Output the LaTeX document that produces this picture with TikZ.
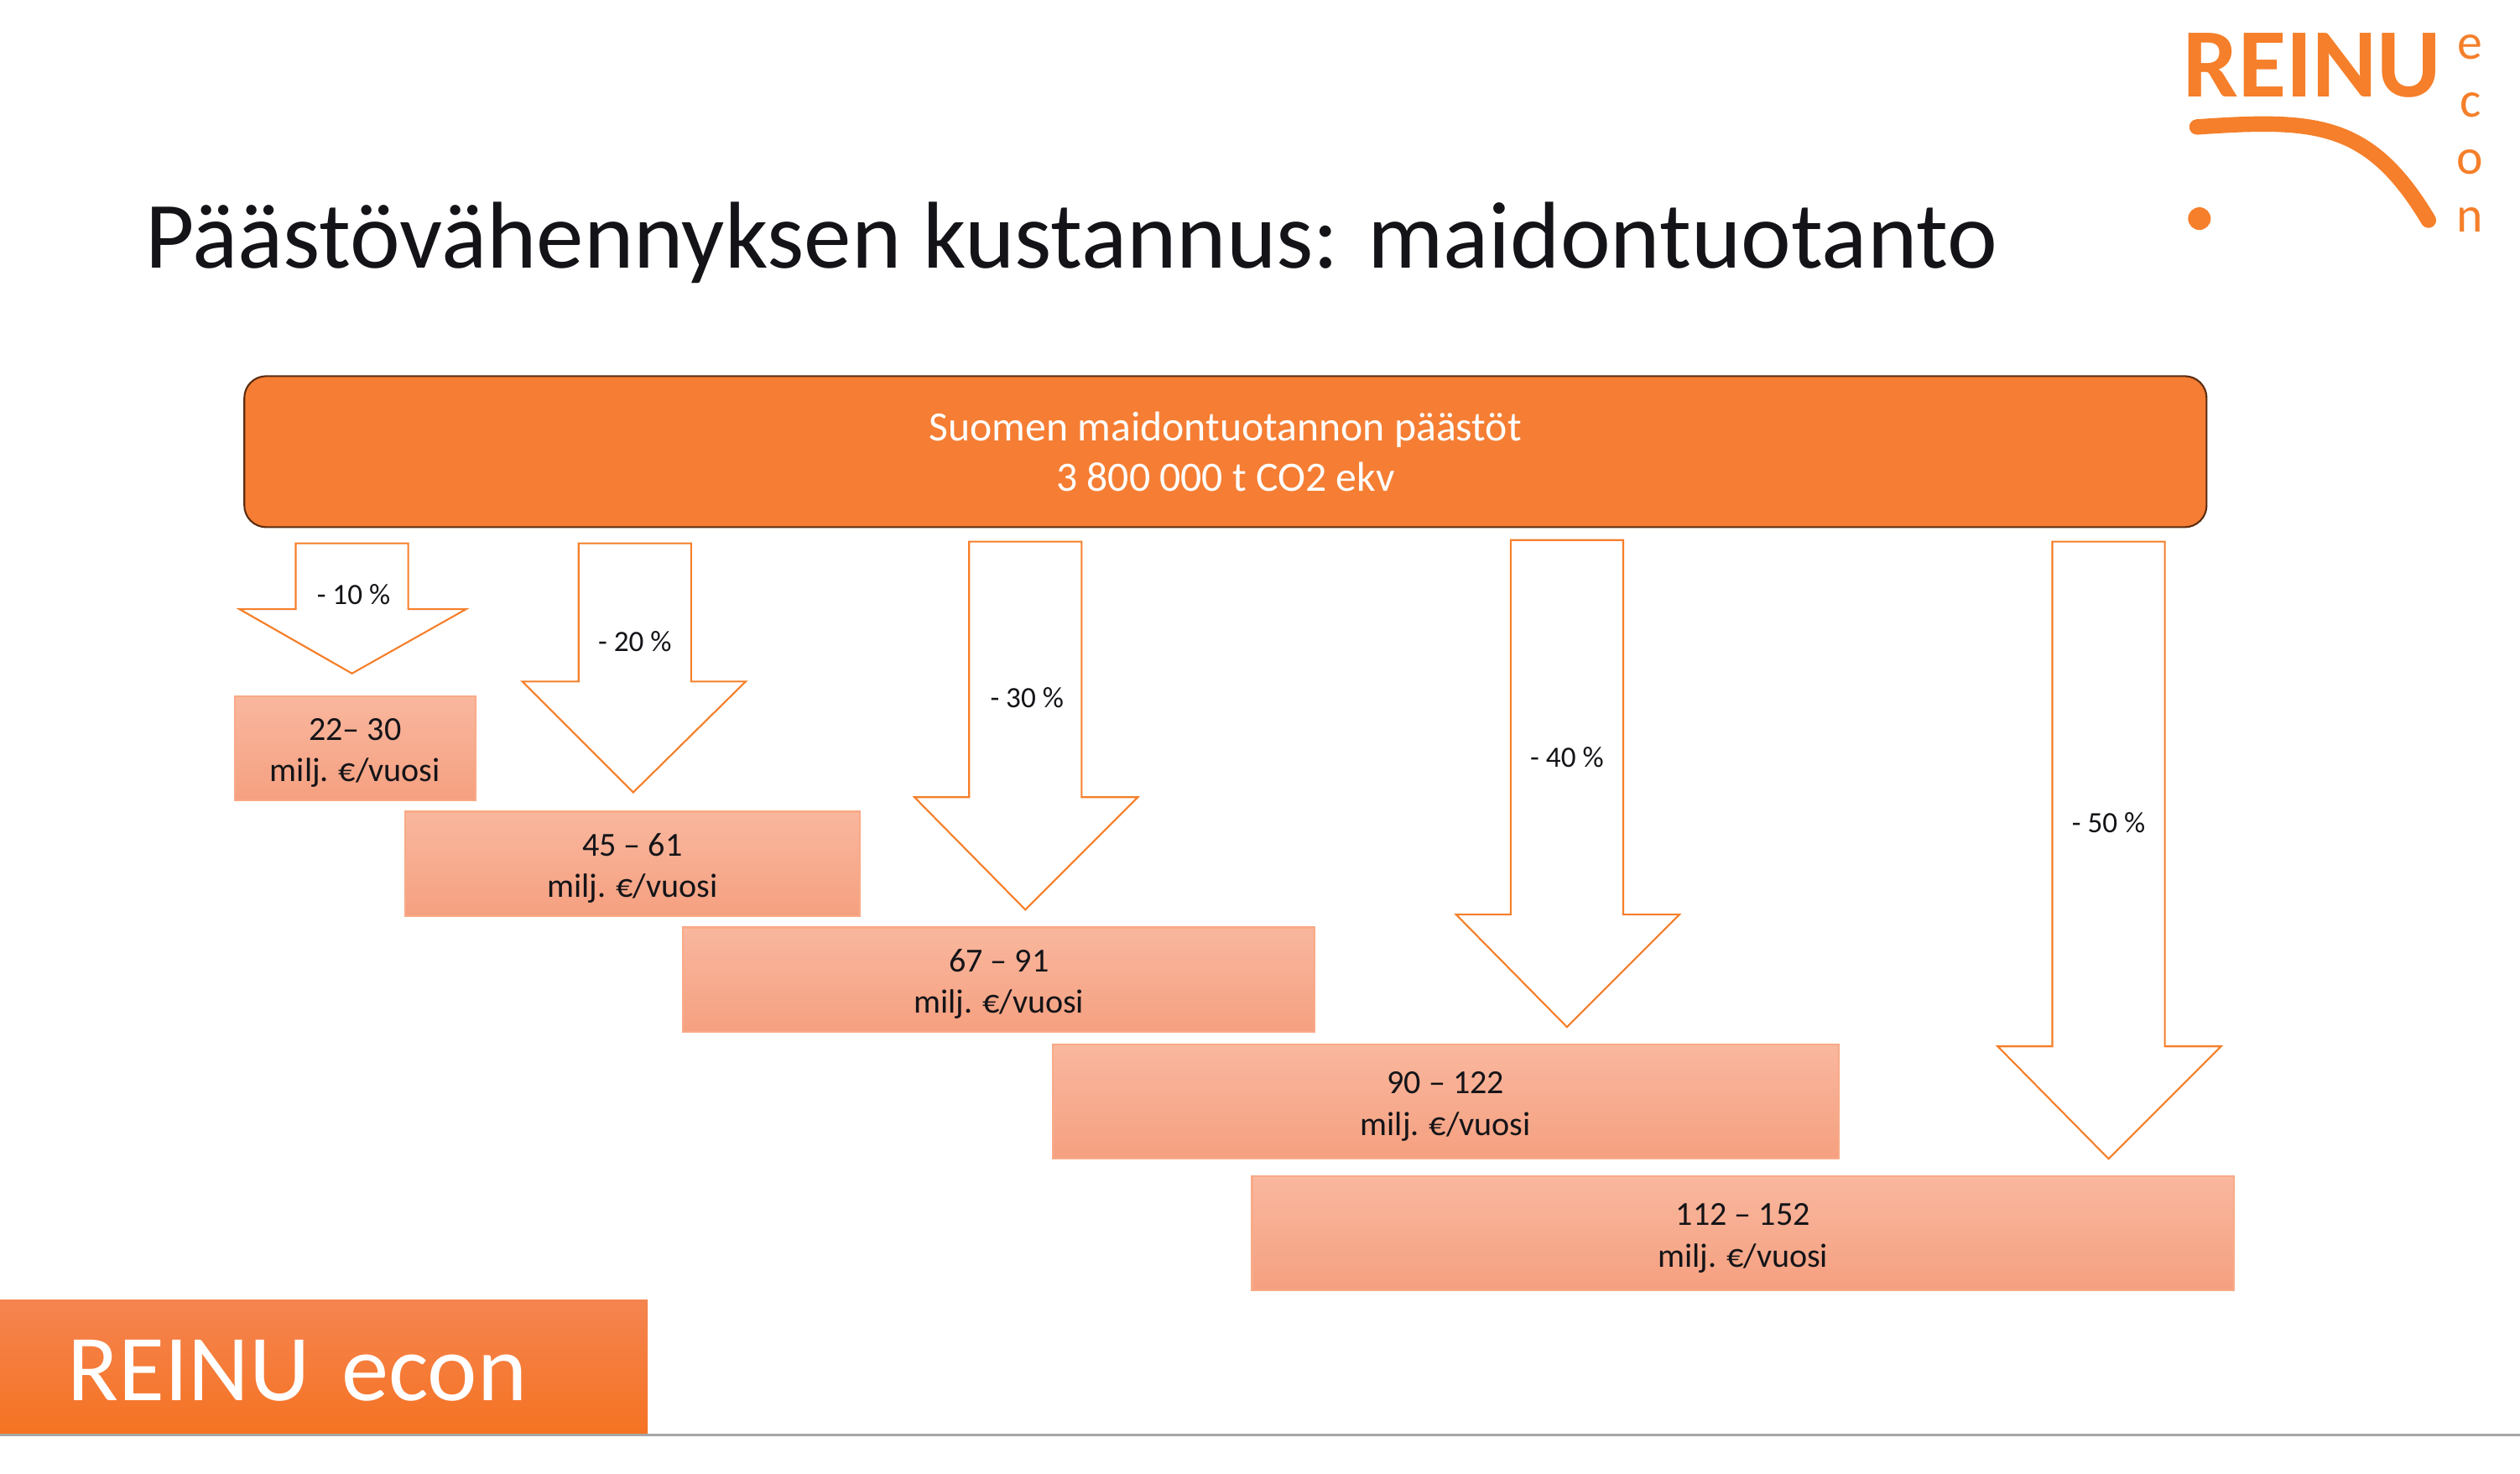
\documentclass[tikz,border=0pt]{standalone}
\usepackage{fontspec}
\setmainfont{Carlito}
\usepackage{tikz}
\usetikzlibrary{positioning}
\definecolor{reinu}{RGB}{245,127,42}
\definecolor{headfill}{RGB}{245,126,52}
\definecolor{headline}{RGB}{92,44,16}
\definecolor{costtop}{RGB}{249,183,158}
\definecolor{costbot}{RGB}{245,160,128}
\definecolor{costline}{RGB}{249,170,135}
\definecolor{foottop}{RGB}{245,132,80}
\definecolor{footbot}{RGB}{245,115,34}
\definecolor{inktext}{RGB}{20,20,24}
\newcommand{\costgap}{\rule{0pt}{3.75mm}}

\begin{document}
\begin{tikzpicture}[x=0.19158mm, y=-0.19158mm, every node/.style={align=center,text=inktext}, head/.style={rectangle,rounded corners=2.6mm,draw=headline,semithick,fill=headfill,minimum width=233.9mm,minimum height=18mm,text=white,font=\fontsize{14.15}{16.9}\selectfont}, cost/.style={rectangle,draw=costline,semithick,top color=costtop,bottom color=costbot,inner ysep=0pt,minimum height=12.45mm,font=\fontsize{11.4}{14.1}\selectfont}, costtall/.style={cost,minimum height=13.6mm}, drop/.style={draw=reinu,semithick,fill=white,line join=miter}, pct/.style={font=\fontsize{10}{12}\selectfont}]
  \useasboundingbox (0,0) rectangle (1568,917);
  \node[anchor=base west,inner sep=0pt,font=\fontsize{32.2}{38}\selectfont] (title) at (90,167) {Päästövähennyksen kustannus: maidontuotanto};
  \node[head] (total) at (762.5,281) {Suomen maidontuotannon päästöt\\3 800 000 t CO2 ekv};
  \draw[drop] (184,338)--(254,338)--(254,379)--(290,379)--(219,419)--(149,379)--(184,379)--cycle;
  \draw[drop] (360,338)--(430,338)--(430,424)--(464,424)--(394,493)--(325,424)--(360,424)--cycle;
  \draw[drop] (603,337)--(673,337)--(673,496)--(708,496)--(638,566)--(569,496)--(603,496)--cycle;
  \draw[drop] (940,336)--(1010,336)--(1010,569)--(1045,569)--(975,639)--(906,569)--(940,569)--cycle;
  \draw[drop] (1277,337)--(1347,337)--(1347,651)--(1382,651)--(1312,721)--(1243,651)--(1277,651)--cycle;
  \node[pct] (p10) at (220,370) {- 10 \%};
  \node[pct] (p20) at (395,399) {- 20 \%};
  \node[pct] (p30) at (639,434) {- 30 \%};
  \node[pct] (p40) at (975,471) {- 40 \%};
  \node[pct] (p50) at (1312,512) {- 50 \%};
  \node[cost,minimum width=28.7mm] (c10) at (221,465.5) {\costgap 22– 30\\milj. €/vuosi};
  \node[cost,minimum width=54.2mm] (c20) at (393.5,537.5) {\costgap 45 – 61\\milj. €/vuosi};
  \node[cost,minimum width=75.3mm] (c30) at (621.5,609.5) {\costgap 67 – 91\\milj. €/vuosi};
  \node[costtall,minimum width=93.7mm] (c40) at (899.5,685.5) {\costgap 90 – 122\\milj. €/vuosi};
  \node[costtall,minimum width=117.05mm] (c50) at (1084.5,767.5) {\costgap 112 – 152\\milj. €/vuosi};
  \coordinate (ruleL) at (0,893);
  \coordinate (ruleR) at (1568,893);
  \draw[gray!70,thick] (ruleL)--(ruleR);
  \node[rectangle,top color=foottop,bottom color=footbot,minimum width=77.2mm,minimum height=15.9mm,text width=61.1mm,inner xsep=8.05mm,inner ysep=0pt,align=left,text=white,font=\fontsize{32}{36}\selectfont] (foot) at (201.5,850.5) {\raisebox{-4mm}[0pt][0pt]{REINU econ}};
  \node[anchor=base west,inner sep=0pt,text=reinu,font=\bfseries\fontsize{33.3}{33}\selectfont] (logo) at (1358,60.5) {REINU};
  \node[inner sep=0pt,text=reinu,font=\fontsize{17}{19.6}\selectfont] (econ) at (1537,83) {e\\c\\o\\n};
  \draw[reinu,line width=1.84mm,line cap=round] (1367,79) .. controls (1440,74) and (1474,75) .. (1511,137);
  \fill[reinu] (1368.5,136) circle (1.35mm);
\end{tikzpicture}
\end{document}
